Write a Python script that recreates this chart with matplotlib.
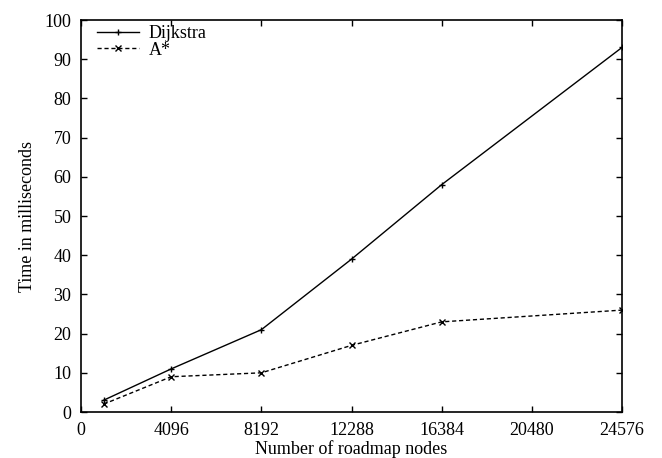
import matplotlib.pyplot as plt

plt.rcParams['font.family'] = ['Liberation Serif', 'DejaVu Serif']
plt.rcParams['mathtext.fontset'] = 'stix'

nodes = [1024, 4096, 8192, 12288, 16384, 24576]
dijkstra = [3, 11, 21, 39, 58, 93]
astar = [2, 9, 10, 17, 23, 26]
xticks = [0, 4096, 8192, 12288, 16384, 20480, 24576]
yticks = list(range(0, 101, 10))

fig = plt.figure(figsize=(6.62, 4.58), dpi=100)
ax = fig.add_axes([0.1224, 0.1004, 0.8172, 0.8559])

ax.plot(nodes, dijkstra, color="black", lw=1.0, marker="+", ms=5, mew=1.0, label="Dijkstra")
ax.plot(nodes, astar, color="black", lw=1.0, ls=(0, (3, 2)), marker="x", ms=4.5, mew=1.0, label="A*")

ax.set_xlim(0, 24576)
ax.set_ylim(0, 100)
ax.set_xticks(xticks)
ax.set_yticks(yticks)
ax.tick_params(direction="in", length=4, width=1, top=True, right=True, labelsize=13, pad=7)
for s in ax.spines.values():
    s.set_linewidth(1.2)

ax.set_xlabel("Number of roadmap nodes", fontsize=13, labelpad=1)
ax.set_ylabel("Time in milliseconds", fontsize=13, labelpad=6)

ax.legend(loc="upper left", frameon=False, fontsize=13, handlelength=2.3,
          handletextpad=0.55, borderaxespad=0.0, borderpad=0.3, labelspacing=-0.05,
          bbox_to_anchor=(0.02, 1.0))

fig.savefig("out.png", dpi=100)
